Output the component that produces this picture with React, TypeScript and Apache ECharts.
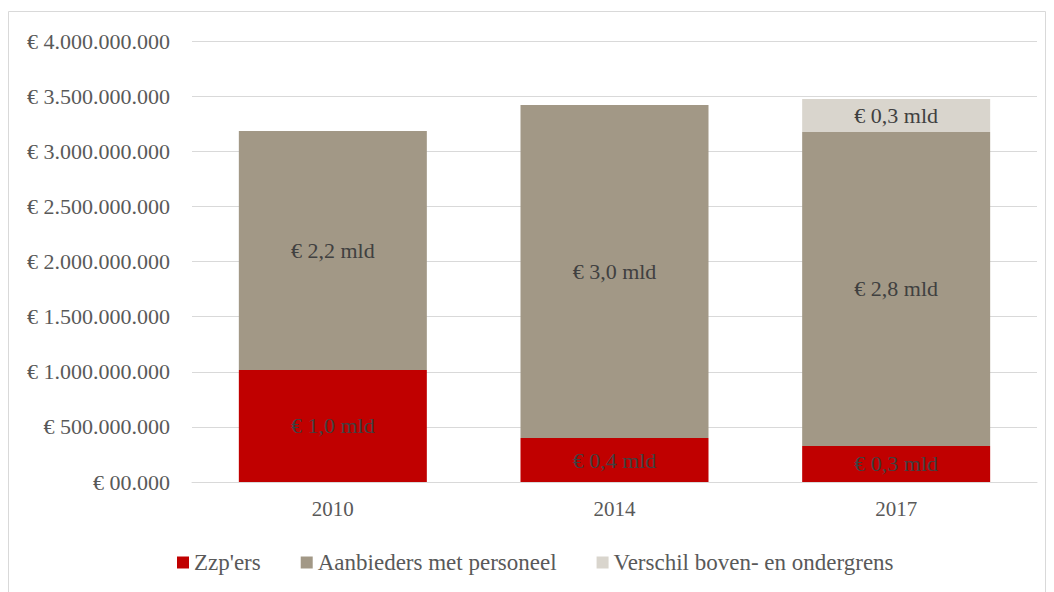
import React, { useEffect, useRef } from "react";
import * as echarts from "echarts";

const categories = ["2010", "2014", "2017"];
const zzpValues = [1016000000, 399000000, 327000000];
const aanbiedersValues = [2168000000, 3020000000, 2848000000];
const verschilValues: (number | string)[] = ["-", "-", 299000000];
const seriesNames = ["Zzp'ers", "Aanbieders met personeel", "Verschil boven- en ondergrens"];
const yTicks = [0, 500000000, 1000000000, 1500000000, 2000000000, 2500000000, 3000000000, 3500000000, 4000000000];

const FONT = "'Liberation Serif', 'DejaVu Serif', serif";

function fmtAxis(v: number): string {
  if (v === 0) return "€ 00.000";
  return "€ " + String(Math.round(v)).replace(/\B(?=(\d{3})+(?!\d))/g, ".");
}
function fmtMld(v: number): string {
  return "€ " + (v / 1e9).toFixed(1).replace(".", ",") + " mld";
}

export default function App() {
  const ref = useRef<HTMLDivElement>(null);
  useEffect(() => {
    document.body.style.margin = "0";
    const chart = echarts.init(ref.current!, null, { renderer: "svg" });
    const label = {
      show: true,
      position: "inside",
      color: "#404040",
      fontFamily: FONT,
      fontSize: 22,
      formatter: (p: any) => fmtMld(p.value),
    };
    chart.setOption({
      animation: false,
      backgroundColor: "#ffffff",
      graphic: [
        {
          type: "rect",
          shape: { x: 8.5, y: 11.5, width: 1037, height: 590 },
          style: { fill: "none", stroke: "#d9d9d9", lineWidth: 1 },
          silent: true,
        },
      ],
      grid: { left: 192, right: 17, top: 41, bottom: 110, containLabel: false },
      legend: {
        top: 546,
        left: 172,
        itemWidth: 12,
        itemHeight: 12,
        itemGap: 40,
        icon: "rect",
        textStyle: { fontFamily: FONT, fontSize: 23, color: "#595959" },
        data: seriesNames,
      },
      xAxis: {
        type: "category",
        data: categories,
        axisLine: { lineStyle: { color: "#d9d9d9", width: 1 } },
        axisTick: { show: false },
        axisLabel: { fontFamily: FONT, fontSize: 21, color: "#595959", margin: 16 },
      },
      yAxis: {
        type: "value",
        min: yTicks[0],
        max: yTicks[yTicks.length - 1],
        interval: yTicks[1] - yTicks[0],
        axisLine: { show: false },
        axisTick: { show: false },
        splitLine: { lineStyle: { color: "#d9d9d9", width: 1 } },
        axisLabel: {
          fontFamily: FONT,
          fontSize: 22,
          color: "#595959",
          margin: 22,
          formatter: (v: number) => fmtAxis(v),
        },
      },
      series: [
        {
          name: seriesNames[0],
          type: "bar",
          stack: "total",
          barWidth: 188,
          data: zzpValues,
          itemStyle: { color: "#C00000" },
          label,
        },
        {
          name: seriesNames[1],
          type: "bar",
          stack: "total",
          barWidth: 188,
          data: aanbiedersValues,
          itemStyle: { color: "#A29886" },
          label,
        },
        {
          name: seriesNames[2],
          type: "bar",
          stack: "total",
          barWidth: 188,
          data: verschilValues,
          itemStyle: { color: "#D9D5CD" },
          label,
        },
      ],
    });
    return () => chart.dispose();
  }, []);
  return <div ref={ref} style={{ width: 1054, height: 592 }} />;
}
